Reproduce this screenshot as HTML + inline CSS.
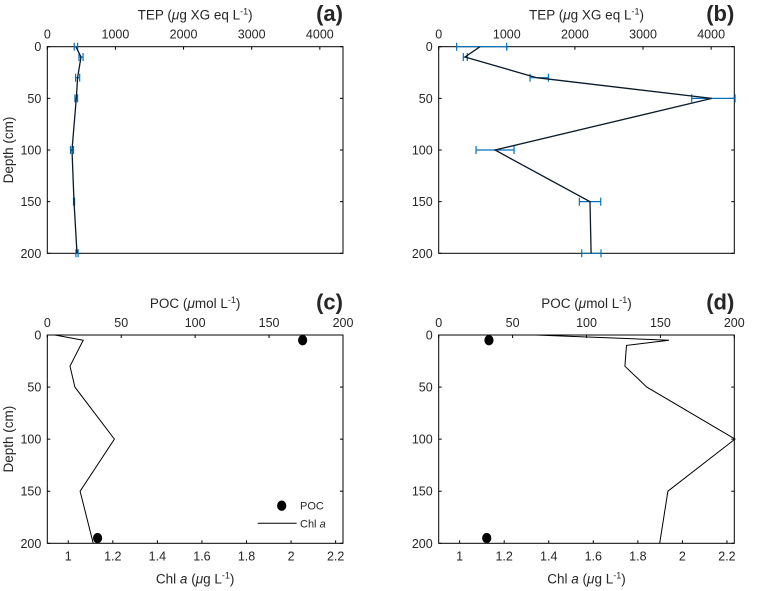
<!DOCTYPE html>
<html><head><meta charset="utf-8"><style>
html,body{margin:0;padding:0;background:#fff}
svg{display:block}
text{font-family:"Liberation Sans",Arial,sans-serif;fill:#262626}
</style></head><body>
<svg id="chart" width="758" height="591" viewBox="0 0 758 591"></svg>
<script>
// Panel (a) TEP
const depthA = [0, 10, 30, 50, 100, 150, 200];
const tepA = [420, 495, 445, 425, 362, 392, 436];
const tepAlo = [395, 465, 415, 405, 340, 385, 420];
const tepAhi = [445, 525, 475, 445, 385, 400, 452];
// Panel (b) TEP
const depthB = [0, 10, 30, 50, 100, 150, 200];
const tepB = [606, 386, 1439, 4009, 827, 2222, 2237];
const tepBlo = [264, 361, 1341, 3715, 548, 2065, 2100];
const tepBhi = [998, 420, 1610, 4351, 1106, 2379, 2383];
// Panel (c)
const depthC = [0, 5, 30, 50, 100, 150, 200];
const chlC = [0.94, 1.067, 1.008, 1.03, 1.207, 1.053, 1.112];
const pocDepthC = [5, 195];
const pocC = [172.7, 34];
// Panel (d)
const depthD = [0, 5, 10, 30, 50, 100, 150, 200];
const chlD = [1.341, 1.94, 1.749, 1.742, 1.84, 2.236, 1.935, 1.898];
const pocDepthD = [5, 195];
const pocD = [34, 32.5];
// ticks
const tepTicks = [0, 1000, 2000, 3000, 4000];
const depthTicks = [0, 50, 100, 150, 200];
const pocTicks = [0, 50, 100, 150, 200];
const chlTicks = [1, 1.2, 1.4, 1.6, 1.8, 2, 2.2];

const svg = document.getElementById('chart');
const NS = 'http://www.w3.org/2000/svg';
function mk(tag, attrs, parent) {
  const e = document.createElementNS(NS, tag);
  for (const k in attrs) e.setAttribute(k, attrs[k]);
  (parent || svg).appendChild(e);
  return e;
}
function txt(s, x, y, size, anchor, parent, extra) {
  const t = mk('text', Object.assign({x: x, y: y, 'font-size': size, 'text-anchor': anchor || 'middle'}, extra || {}), parent);
  t.innerHTML = s;
  return t;
}

function panel(id, L, T, R, B, xmin, xmax) {
  const g = mk('g', {});
  
  
  const sx = v => L + (v - xmin) / (xmax - xmin) * (R - L);
  const sy = d => T + d / 200 * (B - T);
  return {g, sx, sy, L, T, R, B};
}

function frame(p, showDepthLabel) {
  const ax = mk('g', {}, p.g);
  
  
  mk('rect', {x: p.L, y: p.T, width: p.R - p.L, height: p.B - p.T, fill: 'none', stroke: '#000', 'stroke-width': 1}, ax);
  depthTicks.forEach(d => {
    const y = p.sy(d);
    mk('line', {x1: p.L, x2: p.L + 3, y1: y, y2: y, stroke: '#000'}, ax);
    mk('line', {x1: p.R, x2: p.R - 3, y1: y, y2: y, stroke: '#000'}, ax);
    const t = txt(String(d), p.L - 6, y + 4.5, 12.5, 'end', ax);
    
    
  });
  if (showDepthLabel) {
    const yc = (p.T + p.B) / 2;
    const t = txt('Depth (cm)', 13, yc, 13.5, 'middle', ax, {transform: 'rotate(-90 13 ' + yc + ')'});
    
    
  }
}

function topAxis(p, ticks, sxf, title, label) {
  const ax = mk('g', {}, p.g);
  
  
  ticks.forEach(v => {
    const x = sxf(v);
    mk('line', {x1: x, x2: x, y1: p.T, y2: p.T + 3, stroke: '#000'}, ax);
    const t = txt(String(v), x, p.T - 8, 12.5, 'middle', ax);
    
    
  });
  const tt = txt(title, (p.L + p.R) / 2, p.T - 27, 13.5, 'middle', ax);
  
  
  const lb = txt(label, p.R, p.T - 25.5, 22, 'end', p.g, {'font-weight': 'bold', fill: '#000'});
  
  
}

function bottomAxis(p, sxf) {
  const ax = mk('g', {}, p.g);
  
  
  chlTicks.forEach(v => {
    const x = sxf(v);
    mk('line', {x1: x, x2: x, y1: p.B, y2: p.B - 3, stroke: '#000'}, ax);
    const t = txt(String(v), x, p.B + 17, 12.5, 'middle', ax);
    
    
  });
  const tt = txt('Chl <tspan font-style="italic">a</tspan> (<tspan font-style="italic">μ</tspan>g L<tspan dy="-5" font-size="9">-1</tspan><tspan dy="5">)</tspan>', (p.L + p.R) / 2, p.B + 40, 13.5, 'middle', ax);
  
  
}

function tepSeries(p, depth, vals, lo, hi) {
  const g = mk('g', {}, p.g);
  
  
  depth.forEach((d, i) => {
    const y = p.sy(d), x1 = p.sx(lo[i]), x2 = p.sx(hi[i]);
    const eb = mk('g', {stroke: '#0072BD', 'stroke-width': 1.2}, g);
    
    
    mk('line', {x1: x1, x2: x2, y1: y, y2: y}, eb);
    mk('line', {x1: x1, x2: x1, y1: y - 4, y2: y + 4}, eb);
    mk('line', {x1: x2, x2: x2, y1: y - 4, y2: y + 4}, eb);
  });
  const pts = depth.map((d, i) => p.sx(vals[i]).toFixed(1) + ',' + p.sy(d).toFixed(1)).join(' ');
  const l = mk('polyline', {points: pts, fill: 'none', stroke: '#0a1a2a', 'stroke-width': 1.3}, g);
  
  
}

function chlSeries(p, depth, vals, sxc) {
  const pts = depth.map((d, i) => sxc(vals[i]).toFixed(1) + ',' + p.sy(d).toFixed(1)).join(' ');
  const l = mk('polyline', {points: pts, fill: 'none', stroke: '#000', 'stroke-width': 1}, p.g);
  
  
}
function pocSeries(p, depth, vals, sxp) {
  depth.forEach((d, i) => {
    const c = mk('ellipse', {cx: sxp(vals[i]), cy: p.sy(d), rx: 4.6, ry: 5.2, fill: '#000'}, p.g);
    
    
  });
}

const tepTitle = 'TEP (<tspan font-style="italic">μ</tspan>g XG eq L<tspan dy="-5" font-size="9">-1</tspan><tspan dy="5">)</tspan>';
const pocTitle = 'POC (<tspan font-style="italic">μ</tspan>mol L<tspan dy="-5" font-size="9">-1</tspan><tspan dy="5">)</tspan>';
const TEPMAX = 4340;

// (a)
const pa = panel('a', 47.3, 46.7, 343, 253.3, 0, TEPMAX);
frame(pa, true);
topAxis(pa, tepTicks, pa.sx, tepTitle, '(a)');
tepSeries(pa, depthA, tepA, tepAlo, tepAhi);

// (b)
const pb = panel('b', 438.7, 46.7, 734.3, 253.3, 0, TEPMAX);
frame(pb, false);
topAxis(pb, tepTicks, pb.sx, tepTitle, '(b)');
tepSeries(pb, depthB, tepB, tepBlo, tepBhi);

// (c)
const pc = panel('c', 47.3, 335, 343, 543.3, 0, 200);
const chlMin = 0.906, chlMax = 2.233;
const scC = v => pc.L + (v - chlMin) / (chlMax - chlMin) * (pc.R - pc.L);
frame(pc, true);
topAxis(pc, pocTicks, pc.sx, pocTitle, '(c)');
bottomAxis(pc, scC);
chlSeries(pc, depthC, chlC, scC);
pocSeries(pc, pocDepthC, pocC, pc.sx);
// legend
const lg = mk('g', {}, pc.g);


const le1 = mk('g', {}, lg);


mk('ellipse', {cx: 281.7, cy: 505.7, rx: 4.6, ry: 5.2, fill: '#000'}, le1);
txt('POC', 300, 509.5, 11, 'start', le1);
const le2 = mk('g', {}, lg);


mk('line', {x1: 257.7, x2: 296.7, y1: 523.3, y2: 523.3, stroke: '#000'}, le2);
txt('Chl <tspan font-style="italic">a</tspan>', 300, 527.5, 11, 'start', le2);

// (d)
const pd = panel('d', 438.7, 335, 734.3, 543.3, 0, 200);
const scD = v => pd.L + (v - chlMin) / (chlMax - chlMin) * (pd.R - pd.L);
frame(pd, false);
topAxis(pd, pocTicks, pd.sx, pocTitle, '(d)');
bottomAxis(pd, scD);
chlSeries(pd, depthD, chlD, scD);
pocSeries(pd, pocDepthD, pocD, pd.sx);
</script>
</body></html>
